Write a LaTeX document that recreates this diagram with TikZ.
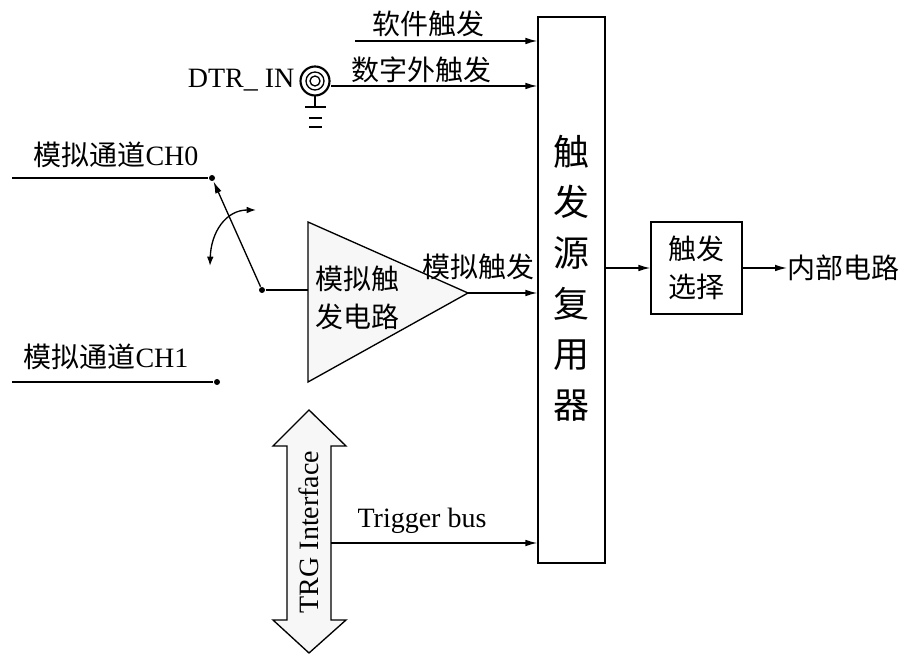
\documentclass[tikz,border=0pt]{standalone}
\usepackage{fontspec}
\setmainfont{Liberation Serif}
\newfontfamily\cjk{Noto Sans CJK SC}
\usetikzlibrary{arrows.meta}

\begin{document}
\begin{tikzpicture}[x=0.75pt,y=-0.75pt,line width=1pt,
    sig/.style={-{Latex[length=9pt,width=5pt]}},
    dot/.style={circle,fill,inner sep=0pt,minimum size=4.5pt},
    txt/.style={inner sep=0pt,font=\fontsize{21}{28}\selectfont},
    cn/.style={inner sep=0pt,font=\cjk\fontsize{21}{28.5}\selectfont},
    pale/.style={fill=gray!6}]
  \useasboundingbox (0,0) rectangle (909,655);

  % Draw the multiplexer and the selector
  \node[draw,minimum width=50.25pt,minimum height=409.5pt] (mux) at (571.5,290) {};
  \node[cn,align=center,font=\cjk\fontsize{27}{38}\selectfont] (muxtext) at (571,278) {触\\发\\源\\复\\用\\器};
  \node[cn,draw,minimum width=68.25pt,minimum height=69pt,align=center] (sel) at (696.5,268) {触发\\选择};
  \node[cn,anchor=west] (out) at (787,268) {内部电路};

  % Software trigger
  \coordinate (soft) at (355,41);
  \draw[sig] (soft) -- (soft -| mux.west);
  \node[cn] (softlbl) at (428,24) {软件触发};

  % DTR_IN connector and ground
  \coordinate (dtr) at (315,81);
  \draw[line width=1.6pt] (dtr) circle (14.5);
  \draw (dtr) circle (9) (dtr) circle (5);
  \node[txt,anchor=east] (dtrlbl) at (295,80) {DTR\_ IN};
  \draw (315,96) -- (315,107) (305,107) -- (326,107)
        (309,118) -- (322,118) (309,127) -- (322,127);
  \coordinate (dig) at (331,86);
  \draw[sig] (dig) -- (dig -| mux.west);
  \node[cn] (diglbl) at (421,70) {数字外触发};

  % Analog channels and the switch
  \coordinate (ch0) at (12,178);
  \coordinate (ch1) at (12,382);
  \node[dot] (s0) at (212,178) {};
  \node[dot] (s1) at (217,382) {};
  \node[dot] (pivot) at (262,290) {};
  \draw (ch0) -- (s0);
  \draw (ch1) -- (s1);
  \node[txt] (ch0lbl) at (116,155) {{\cjk 模拟通道}CH0};
  \node[txt] (ch1lbl) at (106,357) {{\cjk 模拟通道}CH1};
  \draw[sig] (pivot) -- (s0);
  \draw[{Latex[length=7pt,width=5pt]}-{Latex[length=7pt,width=5pt]}]
    (210,266) .. controls (211,232) and (226,210) .. (256,210);

  % Analog trigger circuit
  \filldraw[pale] (308,222) -- (468,293) -- (308,382) -- cycle;
  \coordinate (ampin) at (308,290);
  \coordinate (apex) at (468,293);
  \draw (pivot) -- (ampin);
  \node[cn,align=left] (amptext) at (357,298) {模拟触\\发电路};
  \draw[sig] (apex) -- (apex -| mux.west);
  \node[cn] (anlbl) at (478,267) {模拟触发};

  % TRG interface and trigger bus
  \filldraw[pale] (309,410) -- (346,446) -- (331,446) -- (331,620) -- (346,620)
    -- (309,653) -- (273,620) -- (287,620) -- (287,446) -- (273,446) -- cycle;
  \node[txt,rotate=90] (trg) at (309,532) {TRG Interface};
  \coordinate (bus) at (331,543);
  \draw[sig] (bus) -- (bus -| mux.west);
  \node[txt] (buslbl) at (422,521) {Trigger bus};

  % Multiplexer to selector to internal circuit
  \draw[sig] (mux.east |- sel.west) -- (sel.west);
  \draw[sig] (sel.east) -- (out.west);
\end{tikzpicture}
\end{document}
